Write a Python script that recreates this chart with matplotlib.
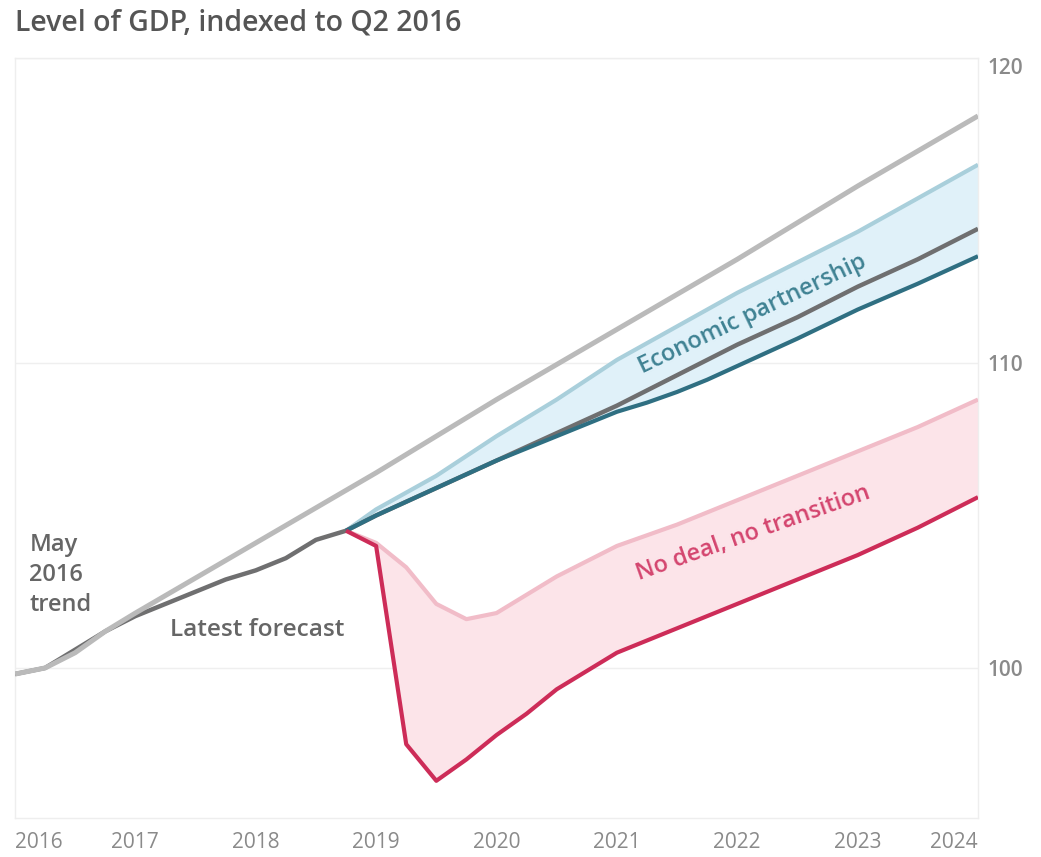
import matplotlib
matplotlib.use("Agg")
import matplotlib.pyplot as plt

plt.rcParams['font.family'] = ['Open Sans', 'DejaVu Sans']

# ---- data ----
trend_x = [2016.0, 2016.25, 2016.5, 2016.75, 2017.0, 2018.0, 2019.0, 2020.0, 2021.0, 2022.0, 2023.0, 2024.0]
trend_y = [99.8, 100.0, 100.5, 101.2, 101.8, 104.1, 106.4, 108.8, 111.1, 113.4, 115.8, 118.1]

latest_x = [2016.0, 2016.25, 2016.5, 2016.75, 2017.0, 2017.25, 2017.5, 2017.75, 2018.0, 2018.25,
            2018.5, 2018.75, 2019.0, 2019.5, 2020.0, 2020.5, 2021.0, 2021.5, 2022.0, 2022.5,
            2023.0, 2023.5, 2024.0]
latest_y = [99.8, 100.0, 100.6, 101.2, 101.7, 102.1, 102.5, 102.9, 103.2, 103.6,
            104.2, 104.5, 105.0, 105.9, 106.8, 107.7, 108.6, 109.6, 110.6, 111.5,
            112.5, 113.4, 114.4]

ep_x = [2018.75, 2019.0, 2019.5, 2020.0, 2020.5, 2021.0, 2021.25, 2021.5, 2021.75, 2022.0,
        2022.5, 2023.0, 2023.5, 2024.0]
ep_high = [104.5, 105.2, 106.3, 107.6, 108.8, 110.1, 110.65, 111.2, 111.75, 112.3,
           113.3, 114.3, 115.4, 116.5]
ep_low = [104.5, 105.0, 105.9, 106.8, 107.6, 108.4, 108.7, 109.05, 109.45, 109.9,
          110.8, 111.75, 112.6, 113.5]

nd_x = [2018.75, 2019.0, 2019.25, 2019.5, 2019.75, 2020.0, 2020.25, 2020.5, 2020.75, 2021.0,
        2021.5, 2022.0, 2022.5, 2023.0, 2023.5, 2024.0]
nd_high = [104.5, 104.1, 103.3, 102.1, 101.6, 101.8, 102.4, 103.0, 103.5, 104.0,
           104.7, 105.5, 106.3, 107.1, 107.9, 108.8]
nd_low = [104.5, 104.0, 97.5, 96.3, 97.0, 97.8, 98.5, 99.3, 99.9, 100.5,
          101.3, 102.1, 102.9, 103.7, 104.6, 105.6]

year_ticks = [2016, 2017, 2018, 2019, 2020, 2021, 2022, 2023, 2024]
y_ticks = [100, 110, 120]

# ---- figure ----
fig = plt.figure(figsize=(10.41, 8.57), dpi=100)
ax = fig.add_axes([15/1041, 1 - 818/857, (978 - 15)/1041, (818 - 58)/857])
ax.set_xlim(2016, 2024)
ax.set_ylim(95.08, 120.0)

# bands
ax.fill_between(ep_x, ep_low, ep_high, color='#e0f1f9', lw=0, zorder=1)
ax.fill_between(nd_x, nd_low, nd_high, color='#fce4e9', lw=0, zorder=1)

# lines
ax.plot(ep_x, ep_high, color='#a9cfdb', lw=3.0, solid_capstyle='butt', zorder=3)
ax.plot(nd_x, nd_high, color='#f1bcc8', lw=3.0, solid_capstyle='butt', zorder=3)
ax.plot(latest_x, latest_y, color='#6f6f70', lw=3.2, solid_capstyle='butt', zorder=4)
ax.plot(ep_x, ep_low, color='#2f6f82', lw=3.0, solid_capstyle='butt', zorder=5)
ax.plot(nd_x, nd_low, color='#cd2c58', lw=3.0, solid_capstyle='butt', zorder=5)
ax.plot(trend_x, trend_y, color='#bababa', lw=3.6, solid_capstyle='butt', zorder=6)

# grid / frame
ax.set_yticks(y_ticks)
ax.set_yticklabels([str(v) for v in y_ticks])
ax.yaxis.tick_right()
ax.grid(axis='y', color='#efefef', lw=1.0)
ax.set_axisbelow(True)
for s in ax.spines.values():
    s.set_color('#eeeeee')
    s.set_linewidth(1.0)
ax.tick_params(axis='y', length=0, pad=7, labelsize=15, labelcolor='#8a8a8a')
for lbl in ax.get_yticklabels():
    lbl.set_fontweight('semibold')
    if lbl.get_text() == '120':
        lbl.set_verticalalignment('top')

ax.set_xticks(year_ticks)
ax.set_xticklabels([str(v) for v in year_ticks])
ax.tick_params(axis='x', length=0, pad=10, labelsize=15, labelcolor='#8a8a8a')
xl = ax.get_xticklabels()
xl[0].set_horizontalalignment('left')
xl[-1].set_horizontalalignment('right')

# annotations
ax.text(2016.12, 103.05, 'May\n2016\ntrend', ha='left', va='center', fontsize=17,
        color='#666666', linespacing=1.35, fontweight='semibold')
ax.text(2017.29, 101.25, 'Latest forecast', ha='left', va='center', fontsize=17.6,
        color='#666666', fontweight='semibold')
ax.text(2022.13, 111.6, 'Economic partnership', ha='center', va='center', fontsize=17,
        color='#3f8293', rotation=25.5, rotation_mode='anchor', fontweight='semibold')
ax.text(2022.13, 104.4, 'No deal, no transition', ha='center', va='center', fontsize=17,
        color='#d4456f', rotation=19.5, rotation_mode='anchor', fontweight='semibold')

fig.text(15/1041, 1 - 23/857, 'Level of GDP, indexed to Q2 2016', ha='left', va='center',
         fontsize=20.5, color='#555555', fontweight='semibold')

fig.savefig('out.png', dpi=100)
